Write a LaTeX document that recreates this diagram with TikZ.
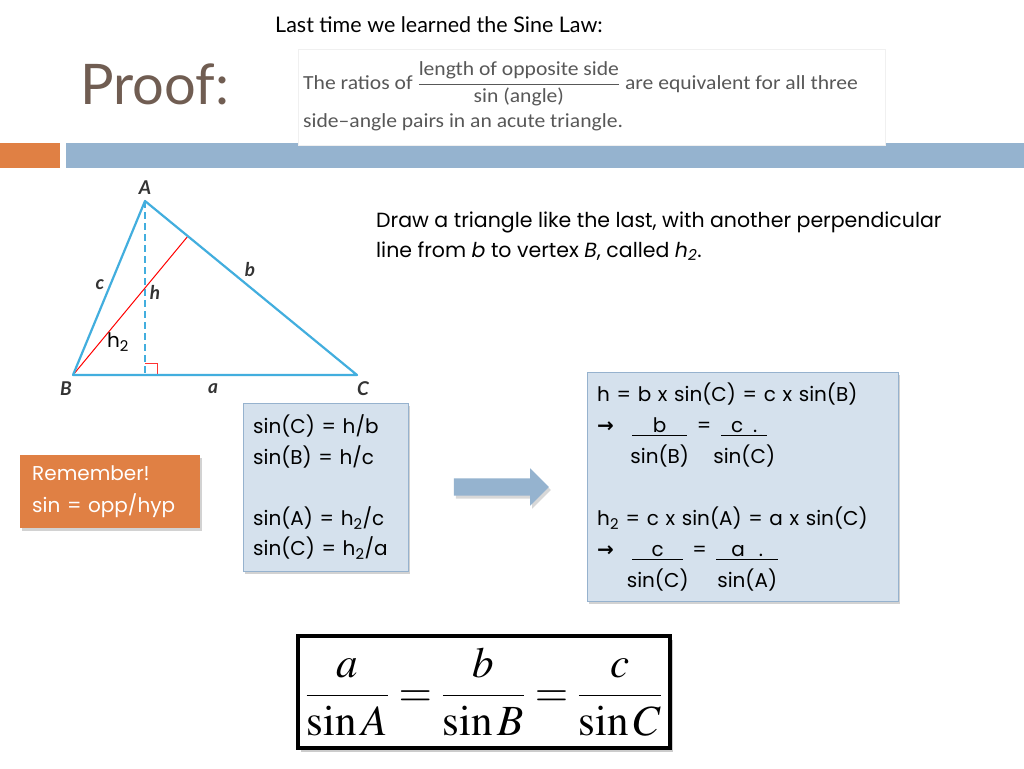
\documentclass[tikz,border=0pt]{standalone}
\usepackage{mathptmx}
\usepackage[no-math]{fontspec}
\setmainfont{Poppins}
\newfontfamily\headfont{Lato}
\newfontfamily\bookfont[FakeStretch=1.08]{Carlito}
\newfontfamily\arrowfont{DejaVu Sans}
\usetikzlibrary{shapes.arrows,shadows}

\definecolor{barblue}{RGB}{149,179,207}
\definecolor{barorange}{RGB}{224,128,68}
\definecolor{boxblue}{RGB}{213,225,237}
\definecolor{boxline}{RGB}{150,178,206}
\definecolor{triblue}{RGB}{66,174,222}
\definecolor{proofbrown}{RGB}{112,93,82}
\definecolor{bookgray}{RGB}{88,88,88}

\newcommand{\ulbox}[2]{\underline{\makebox[#1][c]{#2}}}
\newcommand{\thenarrow}{{\arrowfont\bfseries →}}

\begin{document}
\begin{tikzpicture}[x=1pt, y=-1pt, >=stealth, every node/.style={inner sep=0pt}]
\tikzstyle{textline}=[anchor=base west, font=\fontsize{20.5}{24}\selectfont]
\tikzstyle{vertex}=[font=\headfont\bfseries\itshape\fontsize{19}{21}\selectfont, text=black!80]
\tikzstyle{side}=[draw=triblue, line width=2.2pt]
\tikzstyle{infobox}=[draw=boxline, fill=boxblue, anchor=north west, align=left, inner xsep=10pt, drop shadow={shadow xshift=2pt, shadow yshift=-3pt, opacity=0.35}]
\useasboundingbox (0,0) rectangle (1024,768);
\fill[white] (0,0) rectangle (1024,768);

% title
\node[anchor=base west, font=\headfont\fontsize{21.5}{25}\selectfont] (last) at (275,33) {Last time we learned the Sine Law:};
\node[anchor=base west, font=\headfont\fontsize{56}{60}\selectfont, text=proofbrown] (proof) at (80,104) {Proof:};

% bars
\fill[barorange] (0,143) rectangle (60,168);
\fill[barblue] (66,143) rectangle (1024,168);

% book excerpt
\node[draw=black!6, fill=white, minimum width=587, minimum height=96, anchor=north west] (book) at (298,49) {};
\node[anchor=base west, font=\bookfont\fontsize{20}{24}\selectfont, text=bookgray] (ratios) at (303,89) {The ratios of $\displaystyle\frac{\mbox{length of opposite side}}{\mbox{sin (angle)}}$ are equivalent for all three};
\node[anchor=base west, font=\bookfont\fontsize{20}{24}\selectfont, text=bookgray] (pairs) at (303,127) {side–angle pairs in an acute triangle.};

% triangle
\coordinate (A) at (145,201);
\coordinate (B) at (73,375);
\coordinate (C) at (357,375);
\coordinate (F) at (145,375);
\coordinate (G) at (188,236);
\draw[side, dash pattern=on 7pt off 4pt] (A) -- (F);
\draw[red!80, line width=1pt] (145,363) -| (157,375);
\draw[red, line width=1pt] (B) -- (G);
\draw[side, line join=round] (A) -- (B) -- (C) -- cycle;
\node[vertex] (lA) at (145,188) {A};
\node[vertex] (lB) at (66,389) {B};
\node[vertex] (lC) at (363,389) {C};
\node[vertex] (la) at (213,389) {a};
\node[vertex] (lb) at (250,270) {b};
\node[vertex] (lc) at (100,285) {c};
\node[vertex] (lh) at (155,292) {h};
\node[font=\fontsize{20}{22}\selectfont] (lh2) at (118,342) {h\textsubscript{2}};

% instruction
\node[textline] (draw1) at (376,227) {Draw a triangle like the last, with another perpendicular};
\node[textline] (draw2) at (376,257) {line from \textit{b} to vertex \textit{B}, called \textit{h}\textsubscript{\itshape 2}.};

% boxes
\node[fill=barorange, text=white, anchor=north west, minimum width=180, minimum height=73, text width=156, inner xsep=12pt, align=left, font=\fontsize{20}{32}\selectfont, drop shadow={shadow xshift=2pt, shadow yshift=-3pt, opacity=0.35}] (remember) at (20,455) {Remember!\\sin = opp/hyp};
\node[infobox, minimum width=165, minimum height=168, text width=145, font=\fontsize{20}{30.5}\selectfont] (sines) at (243,403) {sin(C) = h/b\\sin(B) = h/c\\[30.5pt]sin(A) = h\textsubscript{2}/c\\sin(C) = h\textsubscript{2}/a};
\node[single arrow, fill=barblue, minimum height=95, single arrow head extend=10pt, inner ysep=8.5pt, drop shadow={shadow xshift=2pt, shadow yshift=-3pt, opacity=0.3}] (arrow) at (497,487) {};
\node[infobox, minimum width=311, minimum height=229, text width=291, font=\fontsize{20}{31}\selectfont] (laws) at (587,372) {h = b x sin(C) = c x sin(B)\\
\makebox[35pt][l]{\thenarrow}\ulbox{55pt}{b}\makebox[34pt]{=}\ulbox{46pt}{c\hspace{10pt}.}\\
\hspace*{35pt}\makebox[55pt]{sin(B)}\makebox[34pt]{}\makebox[46pt]{sin(C)}\\[31pt]
h\textsubscript{2} = c x sin(A) = a x sin(C)\\
\makebox[35pt][l]{\thenarrow}\ulbox{51pt}{c}\makebox[33pt]{=}\ulbox{62pt}{a\hspace{14pt}.}\\
\hspace*{35pt}\makebox[51pt]{sin(C)}\makebox[33pt]{}\makebox[62pt]{sin(A)}};

% sine law
\node[draw=black, line width=4pt, fill=white, minimum width=372, minimum height=112, anchor=north west, font=\fontsize{43}{50}\selectfont, drop shadow={shadow xshift=3pt, shadow yshift=-4pt, opacity=0.4}] (law) at (296,634) {$\displaystyle\frac{a}{\sin A}=\frac{b}{\sin B}=\frac{c}{\sin C}$};
\end{tikzpicture}
\end{document}
